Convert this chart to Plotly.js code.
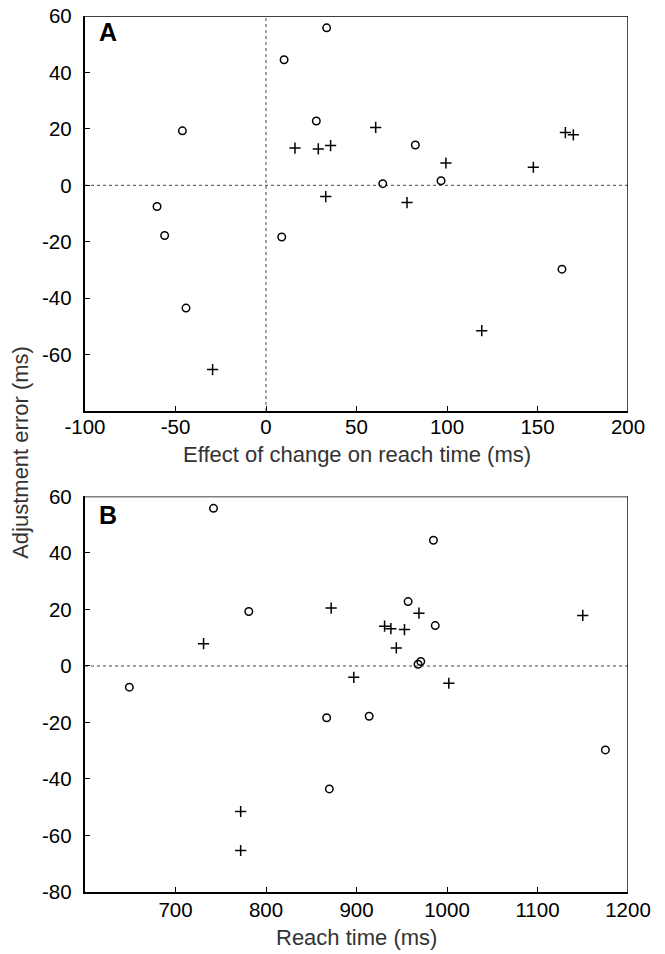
<!DOCTYPE html>
<html>
<head>
<meta charset="utf-8">
<script src="https://cdn.plot.ly/plotly-3.0.1.min.js"></script>
<style>html,body{margin:0;padding:0;background:#fff;}#chart{width:665px;height:954px;}</style>
</head>
<body>
<div id="chart"></div>
<script>
// Circles (open markers)
const circleEffect = [33.5, 10, 27.8, -46.2, 82.5, 64.5, 96.7, -60.2, -56, 8.7, -44.2, 163.5];
const circleReach  = [742, 985, 957, 781, 987, 968, 971, 649, 914, 867, 870, 1175];
const circleError  = [55.8, 44.5, 22.8, 19.3, 14.3, 0.6, 1.6, -7.5, -17.8, -18.3, -43.5, -29.7];
// Pluses
const plusEffect = [60.6, 165.4, 169.8, 35.7, 16, 28.9, 147.7, 99.4, 33, 77.9, 119.2, -29.5];
const plusReach  = [872, 969, 1150, 931, 938, 953, 944, 731, 897, 1002, 772, 772];
const plusError  = [20.5, 18.7, 17.9, 14.1, 13.2, 12.9, 6.4, 7.9, -4.0, -6.1, -51.5, -65.3];

const xTicksA = [-100, -50, 0, 50, 100, 150, 200];
const xTicksB = [700, 800, 900, 1000, 1100, 1200];
const yTicksA = [-60, -40, -20, 0, 20, 40, 60];
const yTicksB = [-80, -60, -40, -20, 0, 20, 40, 60];

const FONT = 'Liberation Sans, Arial, Helvetica, sans-serif';
const circleMarker = {symbol: 'circle-open', size: 7.5, color: '#000', line: {width: 1.5, color: '#000'}};
const plusMarker = {symbol: 'cross-thin-open', size: 8, color: '#000', line: {width: 1.5, color: '#000'}};

const traces = [
  {x: circleEffect, y: circleError, type: 'scatter', mode: 'markers', marker: circleMarker, xaxis: 'x', yaxis: 'y', hoverinfo: 'x+y'},
  {x: plusEffect, y: plusError, type: 'scatter', mode: 'markers', marker: plusMarker, xaxis: 'x', yaxis: 'y', hoverinfo: 'x+y'},
  {x: circleReach, y: circleError, type: 'scatter', mode: 'markers', marker: circleMarker, xaxis: 'x2', yaxis: 'y2', hoverinfo: 'x+y'},
  {x: plusReach, y: plusError, type: 'scatter', mode: 'markers', marker: plusMarker, xaxis: 'x2', yaxis: 'y2', hoverinfo: 'x+y'}
];

function axisBase() {
  return {
    showgrid: false, zeroline: false, showline: true, linecolor: '#000', linewidth: 2.2,
    ticks: 'inside', ticklen: 5, tickwidth: 1, tickcolor: '#000',
    tickfont: {family: FONT, size: 20.5, color: '#000'}, fixedrange: true
  };
}

const xa = Object.assign(axisBase(), {range: [-100, 200], tickvals: xTicksA, ticktext: xTicksA.map(String), anchor: 'y', domain: [0, 1], ticklabelstandoff: -4});
const ya = Object.assign(axisBase(), {range: [-80, 60], tickvals: yTicksA, ticktext: yTicksA.map(String), anchor: 'x', domain: [0.549, 1], ticklabelstandoff: 7});
const xb = Object.assign(axisBase(), {range: [600, 1200], tickvals: xTicksB, ticktext: xTicksB.map(String), anchor: 'y2', domain: [0, 1], ticklabelstandoff: -2});
const yb = Object.assign(axisBase(), {range: [-80, 60], tickvals: yTicksB, ticktext: yTicksB.map(String), anchor: 'x2', domain: [0, 0.4515], ticklabelstandoff: 7});

const dotLine = {color: '#444', width: 1, dash: 'dot'};
const frame = {color: '#000', width: 1.4};
const shapes = [
  {type: 'line', xref: 'x', yref: 'y', x0: -100, x1: 200, y0: 0, y1: 0, line: dotLine, layer: 'below'},
  {type: 'line', xref: 'x', yref: 'y', x0: 0, x1: 0, y0: -80, y1: 60, line: dotLine, layer: 'below'},
  {type: 'line', xref: 'x2', yref: 'y2', x0: 600, x1: 1200, y0: 0, y1: 0, line: dotLine, layer: 'below'},
  {type: 'line', xref: 'x', yref: 'y', x0: -100, x1: 200, y0: 60, y1: 60, line: frame},
  {type: 'line', xref: 'x', yref: 'y', x0: 200, x1: 200, y0: -80, y1: 60, line: frame},
  {type: 'line', xref: 'x2', yref: 'y2', x0: 600, x1: 1200, y0: 60, y1: 60, line: frame},
  {type: 'line', xref: 'x2', yref: 'y2', x0: 1200, x1: 1200, y0: -80, y1: 60, line: frame}
];

const annotations = [
  {text: '<b>A</b>', xref: 'paper', yref: 'paper', x: 0.022, y: 0.9995, xanchor: 'left', yanchor: 'top', showarrow: false, font: {family: FONT, size: 25, color: '#000'}},
  {text: '<b>B</b>', xref: 'paper', yref: 'paper', x: 0.022, y: 0.4486, xanchor: 'left', yanchor: 'top', showarrow: false, font: {family: FONT, size: 25, color: '#000'}},
  {text: 'Adjustment error (ms)', xref: 'paper', yref: 'paper', x: -0.12, y: (892 - 452) / 876, textangle: -90, xanchor: 'center', yanchor: 'middle', showarrow: false, font: {family: FONT, size: 22, color: '#333'}},
  {text: 'Effect of change on reach time (ms)', xref: 'paper', yref: 'paper', x: 0.5, y: (892 - 454) / 876, xanchor: 'center', yanchor: 'middle', showarrow: false, font: {family: FONT, size: 22, color: '#333'}},
  {text: 'Reach time (ms)', xref: 'paper', yref: 'paper', x: 0.5, y: (892 - 938) / 876, xanchor: 'center', yanchor: 'middle', showarrow: false, font: {family: FONT, size: 22, color: '#333'}}
];

const layout = {
  width: 665, height: 954,
  margin: {l: 85, r: 37, t: 16, b: 62},
  paper_bgcolor: '#fff', plot_bgcolor: '#fff',
  showlegend: false,
  xaxis: xa, yaxis: ya, xaxis2: xb, yaxis2: yb,
  shapes: shapes, annotations: annotations,
  font: {family: FONT, color: '#000'}
};

Plotly.newPlot('chart', traces, layout, {displayModeBar: false, staticPlot: true});
</script>
</body>
</html>
